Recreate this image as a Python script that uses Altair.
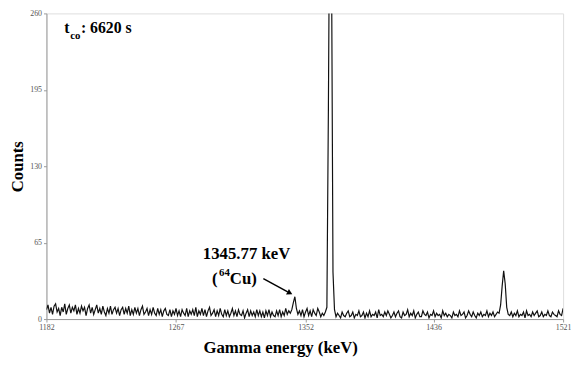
import altair as alt
import pandas as pd

# counts per 1 keV channel starting at 1182 keV
counts_a = [8,12,5,10,4,11,13,6,9,3,
            10,6,13,4,9,12,5,10,7,12,
            4,9,5,11,7,10,3,9,12,5,
            10,4,8,12,5,9,4,11,6,3,
            9,5,11,4,8,10,5,9,3,8,
            10,4,9,5,11,3,8,4,10,5,
            9,3,8,11,4,6,9,3,8,4,
            10,5,3,9,4,8,2,7,9,4]
counts_b = [3,8,2,7,4,9,3,7,2,8,
            5,3,9,2,7,4,8,3,10,2,
            7,4,9,3,8,2,7,10,3,5,
            8,2,7,3,9,4,2,8,3,7,
            2,5,9,3,7,2,8,4,3,7,
            1,5,8,2,7,3,6,2,8,3,
            7,2,6,1,7,3,8,2,6,3,
            2,7,3,8,2,6,3,9,4,7]
counts_cu = [5,8,14,19,9]
counts_c = [4,7,3,8,2,6,9,3,7,2,8,5,3,9,6,2,5,3,6]
counts_main = [10,180,400,320,40,8]
counts_d = [2,5,3,1,6,3,2,5,7,2,
            3,6,1,4,3,7,2,3,6,1,
            5,2,7,2,4,3,6,1,8,3,
            4,2,6,3,7,4,1,3,6,2,
            5,7,2,1,6,3,4,8,2,5,
            3,7,1,4,6,2,2,7,4,3,
            6,1,4,3,7,2,5,3,4,1,
            7,3,5,2,4,3,1,6,3,4,
            2,7,3,4,6,1,3,7,4,2,
            6,3,1,5,3,6,2,4,3,7,
            2,5,3,6,2,4,6]
counts_k = [5,12,28,41,30,10,4]
counts_e = [3,6,2,5,3,7,2,4,3,6,
            1,7,3,4,2,6,3,5,7,2,
            3,6,2,4,3,7,3,2,6,4,
            3,2,7,4,3,9]

counts = counts_a + counts_b + counts_cu + counts_c + counts_main + counts_d + counts_k + counts_e
start_kev = 1182
energies = [start_kev + i for i in range(len(counts))]

x_ticks = [1182, 1267, 1352, 1436, 1521]
y_ticks = [0, 65, 130, 195, 260]

spec = pd.DataFrame({"E": energies, "C": counts})

serif = "'Liberation Serif', 'DejaVu Serif', serif"

xs = alt.Scale(domain=[1182, 1521], nice=False, zero=False)
ys = alt.Scale(domain=[0, 260], nice=False)

line = alt.Chart(spec).mark_line(color="#111", strokeWidth=1.2, clip=True).encode(
    x=alt.X("E:Q", scale=xs,
            axis=alt.Axis(values=x_ticks, format="d", title="Gamma energy (keV)", grid=False,
                          labelFont=serif, labelFontSize=8, labelColor="#555",
                          domainColor="#999", tickColor="#999", tickSize=3,
                          titleFont=serif, titleFontSize=17, titleFontWeight="bold",
                          titleColor="#000", titlePadding=8, titleX=237,
                          labelPadding=2, labelFlush=False)),
    y=alt.Y("C:Q", scale=ys,
            axis=alt.Axis(values=y_ticks, format="d", title="Counts", grid=False,
                          labelFont=serif, labelFontSize=8, labelColor="#555",
                          domainColor="#999", tickColor="#999", tickSize=3,
                          titleFont=serif, titleFontSize=17, titleFontWeight="bold",
                          titleColor="#000", titlePadding=3,
                          labelPadding=2)),
)

def label(df, size, align="left"):
    return alt.Chart(df).mark_text(font=serif, fontSize=size, fontWeight="bold",
                                   align=align, baseline="alphabetic", color="#000").encode(
        x=alt.X("x:Q", scale=xs), y=alt.Y("y:Q", scale=ys), text="t:N")

t_main = label(pd.DataFrame({"x": [1193.6, 1204.6], "y": [243, 243], "t": ["t", ": 6620 s"]}), 16)
t_sub = label(pd.DataFrame({"x": [1197.6], "y": [238], "t": ["co"]}), 11)
cu1 = label(pd.DataFrame({"x": [1313.3], "y": [51], "t": ["1345.77 keV"]}), 17, "center")
cu2 = label(pd.DataFrame({"x": [1290.7, 1302.3], "y": [30.2, 30.2], "t": ["(", "Cu)"]}), 17)
cu_sup = label(pd.DataFrame({"x": [1295.2], "y": [36.9], "t": ["64"]}), 11)

arrow_df = pd.DataFrame({"x": [1324.3], "y": [34.4], "x2": [1340.3], "y2": [23.2]})
arrow = alt.Chart(arrow_df).mark_rule(color="#000", strokeWidth=1.5).encode(
    x=alt.X("x:Q", scale=xs), y=alt.Y("y:Q", scale=ys), x2="x2:Q", y2="y2:Q")
head = alt.Chart(pd.DataFrame({"x": [1341.2], "y": [22.5]})).mark_point(
    shape="triangle", filled=True, color="#000", size=40, angle=118, opacity=1
).encode(x=alt.X("x:Q", scale=xs), y=alt.Y("y:Q", scale=ys))

chart = alt.layer(line, t_main, t_sub, cu1, cu2, cu_sup, arrow, head).properties(
    width=524, height=310,
    autosize=alt.AutoSizeParams(type="none"),
    padding={"left": 39, "top": 3, "right": 8, "bottom": 36},
).configure_view(stroke=None).configure(background="white")

chart.save("out.html", embed_options={"renderer": "svg", "actions": False})
